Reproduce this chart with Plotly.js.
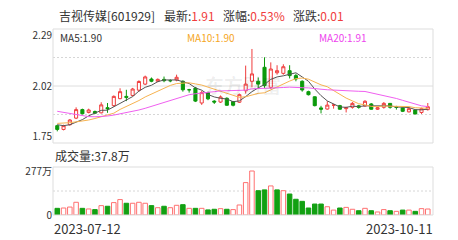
<!DOCTYPE html>
<html><head><meta charset="utf-8">
<script src="https://cdn.plot.ly/plotly-3.0.1.min.js"></script>
<style>html,body{margin:0;padding:0;background:#fff}#c{width:458px;height:240px}</style>
</head><body><div id="c"></div>
<script>
const dates=['2023-07-12','2023-07-13','2023-07-14','2023-07-17','2023-07-18','2023-07-19','2023-07-20','2023-07-21','2023-07-24','2023-07-25','2023-07-26','2023-07-27','2023-07-28','2023-07-31',
'2023-08-01','2023-08-02','2023-08-03','2023-08-04','2023-08-07','2023-08-08','2023-08-09','2023-08-10','2023-08-11','2023-08-14','2023-08-15','2023-08-16','2023-08-17','2023-08-18','2023-08-21','2023-08-22','2023-08-23','2023-08-24','2023-08-25','2023-08-28','2023-08-29','2023-08-30','2023-08-31',
'2023-09-01','2023-09-04','2023-09-05','2023-09-06','2023-09-07','2023-09-08','2023-09-11','2023-09-12','2023-09-13','2023-09-14','2023-09-15','2023-09-18','2023-09-19','2023-09-20','2023-09-21','2023-09-22','2023-09-25','2023-09-26','2023-09-27','2023-09-28',
'2023-10-09','2023-10-10','2023-10-11'];
const openP=[1.81,1.79,1.815,1.85,1.895,1.88,1.885,1.878,1.905,1.916,1.953,1.965,1.97,1.998,2.03,2.057,2.045,2.055,2.048,2.052,2.045,2.0,2.009,1.93,1.985,1.94,1.935,1.955,1.938,1.934,1.995,2.045,2.045,2.119,2.013,2.09,2.087,2.101,2.075,2.045,1.99,1.963,1.904,1.898,1.919,1.916,1.9,1.907,1.915,1.914,1.925,1.897,1.907,1.928,1.91,1.904,1.883,1.893,1.88,1.895];
const highP=[1.815,1.815,1.845,1.907,1.9,1.9,1.89,1.934,1.93,1.97,2.008,2.0,2.01,2.05,2.075,2.065,2.06,2.07,2.055,2.08,2.05,2.005,2.015,1.995,1.99,1.945,1.97,1.96,1.94,1.98,2.128,2.216,2.065,2.172,2.145,2.13,2.135,2.13,2.085,2.05,1.995,1.965,1.915,1.94,1.925,1.92,1.91,1.935,1.92,1.945,1.93,1.91,1.935,1.93,1.915,1.906,1.905,1.895,1.905,1.93];
const lowP=[1.78,1.785,1.81,1.845,1.87,1.875,1.873,1.875,1.878,1.91,1.95,1.94,1.965,1.99,2.025,2.04,2.04,2.04,2.04,2.045,1.99,1.985,1.935,1.92,1.945,1.925,1.93,1.915,1.912,1.93,1.98,2.013,2.01,2.01,2.005,2.08,2.08,2.06,2.045,1.99,1.97,1.912,1.875,1.895,1.9,1.895,1.88,1.9,1.9,1.91,1.895,1.893,1.9,1.9,1.895,1.882,1.88,1.87,1.872,1.89];
const closeP=[1.79,1.81,1.84,1.895,1.873,1.893,1.876,1.92,1.9,1.965,1.99,1.96,2.004,2.044,2.068,2.045,2.055,2.048,2.048,2.066,2.0,2.0,1.94,1.985,1.952,1.935,1.962,1.918,1.918,1.974,2.03,2.084,2.03,2.022,2.11,2.101,2.122,2.075,2.057,1.999,1.974,1.916,1.897,1.919,1.919,1.897,1.905,1.928,1.907,1.939,1.897,1.905,1.928,1.907,1.907,1.886,1.9,1.872,1.9,1.91];
const volume=[42,44,50,80,42,38,34,59,55,78,97,74,74,80,74,59,46,55,46,61,65,42,42,42,32,36,40,36,34,63,204,277,153,158,183,158,153,132,99,86,44,69,69,52,31,44,48,36,27,42,27,19,34,27,23,31,31,23,40,37.8];
const ma5=[1.815,1.81,1.815,1.83,1.842,1.862,1.875,1.891,1.892,1.911,1.93,1.947,1.964,1.993,2.013,2.024,2.043,2.052,2.053,2.052,2.043,2.033,2.01,1.998,1.975,1.962,1.955,1.951,1.937,1.941,1.964,1.99,2.01,2.028,2.055,2.068,2.074,2.082,2.09,2.068,2.045,2.004,1.969,1.941,1.925,1.909,1.907,1.913,1.911,1.915,1.915,1.915,1.915,1.915,1.909,1.907,1.906,1.895,1.894,1.897];
const ma10=[1.822,1.823,1.826,1.83,1.834,1.84,1.848,1.858,1.866,1.876,1.896,1.911,1.928,1.943,1.962,1.977,1.995,2.008,2.023,2.033,2.034,2.037,2.031,2.025,2.014,2.003,1.993,1.98,1.968,1.96,1.963,1.972,1.981,1.984,2.0,2.015,2.031,2.046,2.059,2.062,2.056,2.039,2.026,2.016,1.996,1.977,1.956,1.941,1.926,1.92,1.912,1.911,1.914,1.913,1.912,1.911,1.911,1.905,1.904,1.902];
const ma20=[1.886,1.88,1.873,1.866,1.861,1.858,1.857,1.858,1.861,1.866,1.872,1.878,1.885,1.893,1.902,1.912,1.923,1.933,1.944,1.954,1.965,1.974,1.979,1.984,1.988,1.99,1.994,1.994,1.996,1.996,1.998,2.005,2.006,2.005,2.007,2.009,2.012,2.014,2.014,2.011,2.01,2.005,2.003,2.0,1.998,1.996,1.993,1.994,1.992,1.991,1.984,1.975,1.97,1.964,1.954,1.944,1.933,1.923,1.915,1.911];
const priceTicks=[1.75,2.02,2.29];
const volTicks=[0,277];
const volTickText=['0','277万'];
const stockName='吉视传媒[601929]';
const latest='1.91', pctChg='0.53%', chg='0.01';
const maLabels=['MA5:1.90','MA10:1.90','MA20:1.91'];
const volLabel='成交量:37.8万';

const RED='#f03c3c', GREEN='#0b9a0b', VRED='#ff7070', VGREEN='#12a012';
const FONT='"Noto Sans CJK SC","Noto Sans",sans-serif';
const L=53,R=433,T=29,B=215;
const px=x=>(x-L)/(R-L), py=y=>(B-y)/(B-T);
const idx=dates.map((d,i)=>i);

const volUp=closeP.map((c,i)=> i===0 ? c>=openP[0] : c>=closeP[i-1]);

const traces=[
 {type:'candlestick',x:idx,open:openP,high:highP,low:lowP,close:closeP,xaxis:'x',yaxis:'y',
  increasing:{line:{color:RED,width:1},fillcolor:'#ffffff'},
  decreasing:{line:{color:GREEN,width:1},fillcolor:GREEN},whiskerwidth:0,hoverinfo:'skip'},
 {type:'scatter',mode:'lines',x:idx,y:ma5,line:{color:'#555555',width:1},xaxis:'x',yaxis:'y',hoverinfo:'skip'},
 {type:'scatter',mode:'lines',x:idx,y:ma10,line:{color:'#f7b350',width:1},xaxis:'x',yaxis:'y',hoverinfo:'skip'},
 {type:'scatter',mode:'lines',x:idx,y:ma20,line:{color:'#f060f0',width:1},xaxis:'x',yaxis:'y',hoverinfo:'skip'},
 {type:'bar',x:idx,y:volume,xaxis:'x2',yaxis:'y2',width:0.72,
  marker:{color:volUp.map(u=>u?'#ffffff':VGREEN),line:{color:volUp.map(u=>u?VRED:VGREEN),width:1}},hoverinfo:'skip'}
];

const xr=[-0.68,59.83];
const mainDom=[py(143),1], volDom=[0,py(167)];
const shapes=[];
const frame=(yref)=>({type:'rect',xref:'paper',yref:yref,x0:0,x1:1,y0:0,y1:1,line:{color:'#dddddd',width:1},layer:'above'});
shapes.push(frame('y domain'));
shapes.push(frame('y2 domain'));
[0.25,0.75].forEach(f=>shapes.push({type:'line',xref:'paper',yref:'y domain',x0:0,x1:1,y0:f,y1:f,line:{color:'#d6d6d6',width:1,dash:'2px,2px'},layer:'below'}));
shapes.push({type:'line',xref:'paper',yref:'y domain',x0:0,x1:1,y0:0.5,y1:0.5,line:{color:'#dedede',width:1},layer:'below'});
shapes.push({type:'line',xref:'paper',yref:'y2 domain',x0:0,x1:1,y0:0.5,y1:0.5,line:{color:'#d6d6d6',width:1,dash:'2px,2px'},layer:'below'});

const ann=(x,y,text,opt)=>Object.assign({xref:'paper',yref:'paper',x:px(x),y:py(y),text:text,showarrow:false,xanchor:'left',yanchor:'middle',font:{family:FONT,size:12,color:'#333333'}},opt||{});
const red=s=>'<span style="color:'+RED+'">'+s+'</span>';
const annotations=[
 ann(57,15,stockName),
 ann(162,15,'最新:'+red(latest)),
 ann(221,15,'涨幅:'+red(pctChg)),
 ann(291,15,'涨跌:'+red(chg)),
 ann(58,38,maLabels[0],{font:{family:FONT,size:10,color:'#333333'}}),
 ann(185,38,maLabels[1],{font:{family:FONT,size:10,color:'#f5a623'}}),
 ann(317,38,maLabels[2],{font:{family:FONT,size:10,color:'#ee44ee'}}),
 ann(53,155,volLabel),
 ann(52,228,dates[0],{font:{family:FONT,size:13,color:'#333333'}}),
 ann(435,228,dates[dates.length-1],{xanchor:'right',font:{family:FONT,size:13,color:'#333333'}}),
 ann(243,84,'东方财富',{xanchor:'center',font:{family:FONT,size:19,color:'rgba(0,0,0,0.07)',weight:700}})
];

const layout={width:458,height:240,margin:{l:L,r:458-R,t:T,b:240-B,pad:0},
 paper_bgcolor:'#ffffff',plot_bgcolor:'#ffffff',showlegend:false,
 xaxis:{domain:[0,1],anchor:'y',range:xr,showticklabels:false,showgrid:false,zeroline:false,showline:false,ticks:'',rangeslider:{visible:false}},
 xaxis2:{domain:[0,1],anchor:'y2',range:xr,showticklabels:false,showgrid:false,zeroline:false,showline:false,ticks:''},
 yaxis:{domain:mainDom,range:[1.7182,2.3218],tickvals:priceTicks,ticktext:priceTicks.map(v=>v.toFixed(2)),showgrid:false,zeroline:false,showline:false,ticks:'',tickfont:{family:FONT,size:10,color:'#333333'}},
 yaxis2:{domain:volDom,range:[0,302.2],tickvals:volTicks,ticktext:volTickText,showgrid:false,zeroline:false,showline:false,ticks:'',tickfont:{family:FONT,size:10,color:'#333333'}},
 shapes:shapes,annotations:annotations,bargap:0.28};
Plotly.newPlot('c',traces,layout,{staticPlot:true,displayModeBar:false});
</script></body></html>
